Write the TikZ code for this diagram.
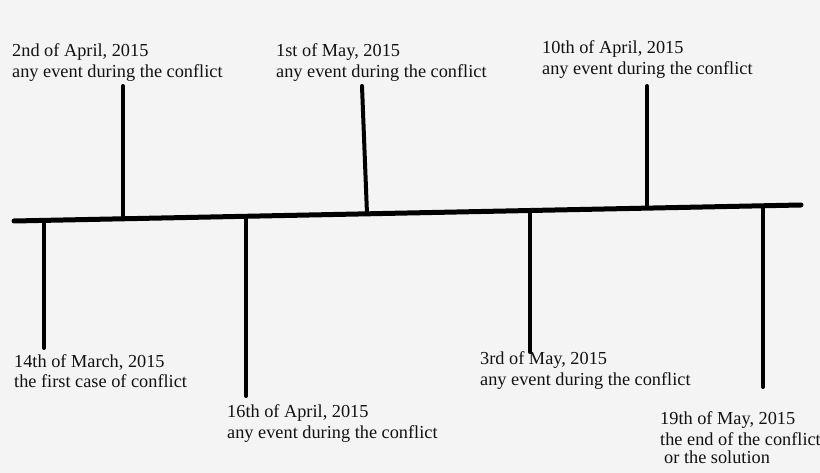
\documentclass[tikz,border=0pt]{standalone}
\usepackage{fontspec}
\setmainfont{Liberation Serif}
\definecolor{bg}{HTML}{F4F4F4}
\definecolor{ink}{HTML}{111111}
\tikzset{
  axisline/.style={line width=5pt, line cap=round, draw=black},
  tickline/.style={line width=4pt, line cap=round, draw=black},
  lbl/.style={anchor=base west, inner sep=0pt, text=ink, font=\fontsize{18.3}{22}\selectfont}
}
\begin{document}
\begin{tikzpicture}[x=1pt,y=-1pt]
\fill[bg] (0,0) rectangle (820,473);
\useasboundingbox (0,0) rectangle (820,473);
% main axis
\coordinate (L) at (14,221);
\coordinate (R) at (801,205);
\draw[axisline] (L) -- (R);
% points on axis
\coordinate (a1) at (44,220.4);
\coordinate (a2) at (123,218.8);
\coordinate (a3) at (246,216.3);
\coordinate (a4) at (367,213.8);
\coordinate (a5) at (530,210.5);
\coordinate (a6) at (647,208.1);
\coordinate (a7) at (763,205.8);
% tick ends
\coordinate (e1) at (44,348);
\coordinate (e2) at (123,86);
\coordinate (e3) at (246,396);
\coordinate (e4) at (362,86);
\coordinate (e5) at (530,352);
\coordinate (e6) at (647,86);
\coordinate (e7) at (763,387);
\foreach \i in {1,...,7} {\draw[tickline] (a\i) -- (e\i);}
% labels
\node[lbl] (l2a) at (12,57) {2nd of April, 2015};
\node[lbl] (l2b) at (12,78) {any event during the conflict};
\node[lbl] (l4a) at (276,57) {1st of May, 2015};
\node[lbl] (l4b) at (276,78) {any event during the conflict};
\node[lbl] (l6a) at (542,54) {10th of April, 2015};
\node[lbl] (l6b) at (542,75) {any event during the conflict};
\node[lbl] (l1a) at (14,367) {14th of March, 2015};
\node[lbl] (l1b) at (14,388) {the first case of conflict};
\node[lbl] (l3a) at (227,417) {16th of April, 2015};
\node[lbl] (l3b) at (227,438) {any event during the conflict};
\node[lbl] (l5a) at (480,364) {3rd of May, 2015};
\node[lbl] (l5b) at (480,385) {any event during the conflict};
\node[lbl] (l7a) at (660,424) {19th of May, 2015};
\node[lbl] (l7b) at (660,445) {the end of the conflict};
\node[lbl] (l7c) at (664,463) {or the solution};
\end{tikzpicture}
\end{document}
